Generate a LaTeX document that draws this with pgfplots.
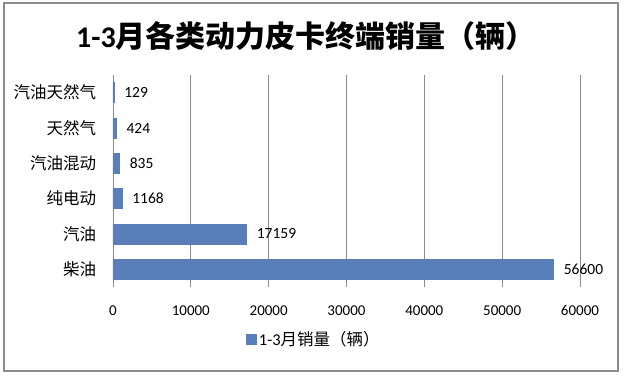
\documentclass[border=0pt]{standalone}
\usepackage{fontspec}
\setmainfont{Carlito}
\newfontfamily\cjk{Noto Sans CJK SC}
\usepackage{pgfplots}
\pgfplotsset{compat=1.18}
\definecolor{barcol}{HTML}{5A7EBA}
\definecolor{gridcol}{HTML}{8C8C8C}
\begin{document}
\begin{tikzpicture}
\useasboundingbox (0pt,0pt) rectangle (624pt,376pt);
\draw[gridcol, line width=1.6pt] (4pt,5pt) rectangle (618pt,373pt);
\node[anchor=center] at (306pt,340pt) {\fontsize{30}{33}\selectfont\bfseries 1-3{\cjk 月各类动力皮卡终端销量（辆）}};
\begin{axis}[
  at={(113pt,89pt)}, anchor=south west,
  scale only axis, width=467pt, height=212pt,
  xbar, bar width=20pt,
  xmin=0, xmax=60000, ymin=-0.5, ymax=5.5,
  scaled ticks=false,
  xtick={0,10000,20000,30000,40000,50000,60000},
  xticklabels={0,10000,20000,30000,40000,50000,60000},
  ytick={0,1,2,3,4,5},
  yticklabels={柴油,汽油,纯电动,汽油混动,天然气,汽油天然气},
  yticklabel style={font=\cjk\fontsize{16.5}{19}\selectfont, xshift=-9pt},
  xticklabel style={font=\fontsize{15}{17}\selectfont, yshift=-15pt},
  xmajorgrids, grid style={gridcol, line width=0.9pt},
  axis line style={draw=none}, tick style={draw=none},
  point meta=explicit symbolic,
  nodes near coords,
  every node near coord/.append style={font=\fontsize{15.5}{18}\selectfont, anchor=west, inner sep=0pt, xshift=10pt},
  legend style={at={(0.285,-0.245)}, anchor=west, draw=none, inner sep=0pt, font=\fontsize{16.5}{19}\selectfont},
  legend image code/.code={\fill[barcol] (0pt,-5pt) rectangle (10pt,5pt);},
]
\addplot[fill=barcol, draw=barcol, line width=0.6pt] coordinates {(56600,0) [56600] (17159,1) [17159] (1168,2) [1168] (835,3) [835] (424,4) [424] (129,5) [129]};
\legend{1-3{\cjk 月销量（辆）}}
\end{axis}
\end{tikzpicture}
\end{document}
